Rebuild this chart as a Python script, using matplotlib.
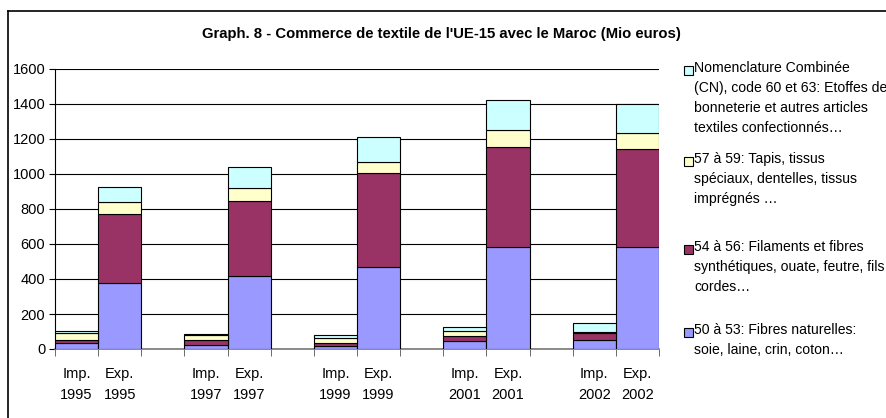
import numpy as np
import matplotlib
matplotlib.use("Agg")
import matplotlib.pyplot as plt
from matplotlib.patches import Rectangle
from matplotlib.lines import Line2D

plt.rcParams["font.family"] = ["Liberation Sans", "DejaVu Sans"]

# 14 category slots: Imp/Exp per year, blank slot between years
labels = ["Imp.\n1995", "Exp.\n1995", "", "Imp.\n1997", "Exp.\n1997", "",
          "Imp.\n1999", "Exp.\n1999", "", "Imp.\n2001", "Exp.\n2001", "",
          "Imp.\n2002", "Exp.\n2002"]
nan = np.nan
fibres = [32, 375, nan, 25, 417, nan, 15, 470, nan, 45, 581, nan, 50, 581]
synth = [22, 396, nan, 24, 429, nan, 22, 534, nan, 30, 573, nan, 40, 560]
tapis = [35, 69, nan, 33, 74, nan, 25, 63, nan, 30, 96, nan, 9, 95]
cn = [14, 87, nan, 6, 118, nan, 18, 143, nan, 23, 171, nan, 51, 162]

series = [
    (fibres, "#9999FF", "50 à 53: Fibres naturelles:\nsoie, laine, crin, coton…"),
    (synth, "#993366", "54 à 56: Filaments et fibres\nsynthétiques, ouate, feutre, fils\ncordes…"),
    (tapis, "#FFFFCC", "57 à 59: Tapis, tissus\nspéciaux, dentelles, tissus\nimprégnés …"),
    (cn, "#CCFFFF", "Nomenclature Combinée\n(CN), code 60 et 63: Etoffes de\nbonneterie et autres articles\ntextiles confectionnés…"),
]

fig = plt.figure(figsize=(8.87, 4.18), dpi=100)
W, H = 887, 418
ax = fig.add_axes([55 / W, 69 / H, 604 / W, 280 / H])

x = np.arange(len(labels))
keep = ~np.isnan(np.array(fibres, dtype=float))
bottom = np.zeros(len(labels))
for vals, col, _ in series:
    v = np.nan_to_num(np.array(vals, dtype=float))
    ax.bar(x[keep], v[keep], width=1.0, bottom=bottom[keep], color=col,
           edgecolor="black", linewidth=0.8, zorder=3)
    bottom += v

ax.set_xlim(-0.5, len(labels) - 0.5)
ax.set_ylim(0, 1600)
ax.set_yticks(range(0, 1601, 200))
ax.yaxis.grid(True, color="black", lw=0.8, zorder=0)
ax.set_axisbelow(True)
ax.set_xticks(x)
ax.set_xticklabels(labels, fontsize=10.5, linespacing=1.6)
ax.set_xticks(np.arange(-0.5, len(labels)), minor=True)
ax.tick_params(axis="x", which="major", length=0, pad=13)
ax.tick_params(axis="x", which="minor", length=5, color="#555555")
ax.tick_params(axis="y", length=4, pad=3, labelsize=10.5)
for s in ("top", "right"):
    ax.spines[s].set_visible(False)
ax.spines["bottom"].set_color("#777777")
ax.spines["bottom"].set_linewidth(1.2)
ax.spines["left"].set_linewidth(0.8)

fig.text(441 / W, 1 - 34 / H,
         "Graph. 8 - Commerce de textile de l'UE-15 avec le Maroc (Mio euros)",
         ha="center", va="center", fontsize=10.7, fontweight="bold")

# chart frame (only top/left visible in reference crop)
fig.add_artist(Line2D([8 / W, 8 / W], [0, 1 - 11 / H], color="black", lw=1.2,
                      transform=fig.transFigure))
fig.add_artist(Line2D([8 / W, 1], [1 - 11 / H, 1 - 11 / H], color="black", lw=1.2,
                      transform=fig.transFigure))

# legend, top entry first
leg_y = [70, 161, 249, 332]
for (vals, col, lab), yy in zip(series[::-1], leg_y):
    fig.add_artist(Rectangle((684 / W, 1 - (yy + 5) / H), 9 / W, 9 / H,
                             facecolor=col, edgecolor="black", lw=0.8,
                             transform=fig.transFigure))
    fig.text(694 / W, 1 - (yy - 9) / H, lab, ha="left", va="top",
             fontsize=10.1, linespacing=1.55)

fig.savefig("out.png", dpi=100)
